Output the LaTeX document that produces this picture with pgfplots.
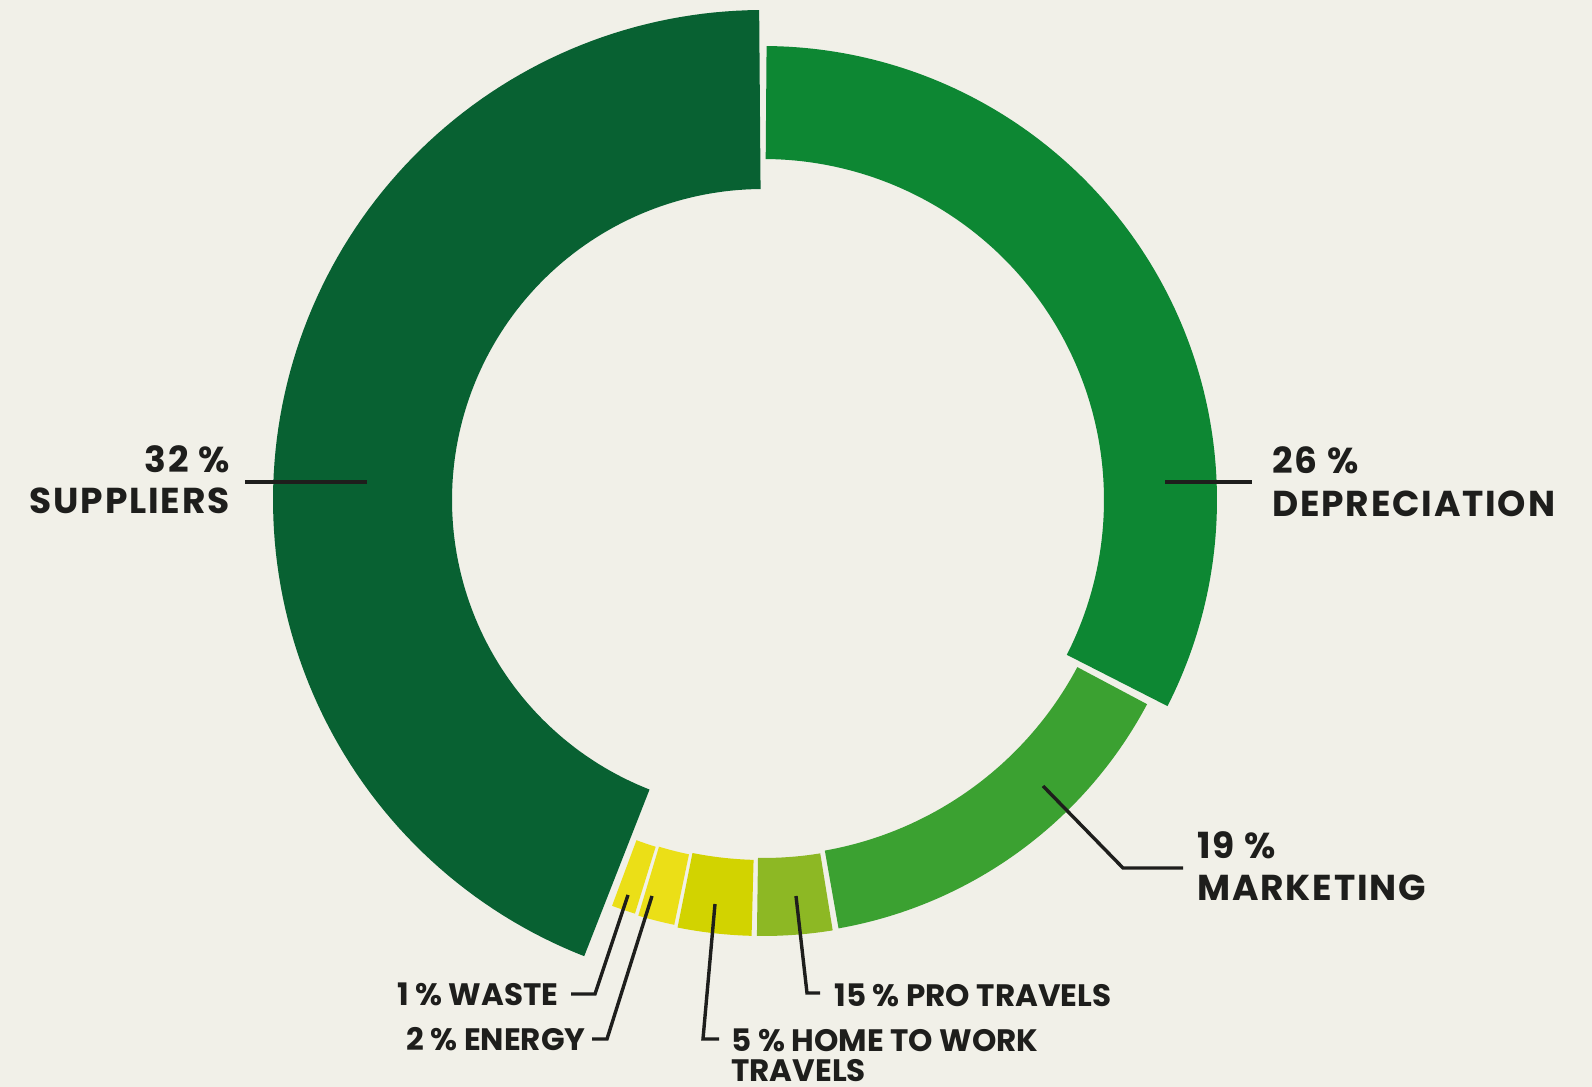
\documentclass[border=0pt]{standalone}
\usepackage{pgfplots}
\pgfplotsset{compat=1.18}
\usepgfplotslibrary{fillbetween}
\usepackage{fontspec}
\setmainfont{Poppins}

\definecolor{bgc}{RGB}{241,240,232}
\definecolor{txt}{RGB}{30,30,28}
\definecolor{cSup}{RGB}{8,97,50}
\definecolor{cDep}{RGB}{13,135,51}
\definecolor{cMar}{RGB}{59,161,49}
\definecolor{cPro}{RGB}{141,184,36}
\definecolor{cHom}{RGB}{210,211,0}
\definecolor{cEne}{RGB}{235,223,23}
\definecolor{cWas}{RGB}{235,223,23}

\tikzset{fill between/on layer=main}

% ring segment: id, colour, start angle, end angle, inner r, outer r (pixels, centre 763/587)
\newcommand{\ring}[6]{%
  \addplot[name path=o#1, draw=none, domain=#3:#4, samples=120, variable=\t]
    ({763+#6*cos(t)},{587+#6*sin(t)});
  \addplot[name path=i#1, draw=none, domain=#3:#4, samples=120, variable=\t]
    ({763+#5*cos(t)},{587+#5*sin(t)});
  \addplot[fill=#2, draw=none] fill between[of=o#1 and i#1];
}
\newcommand{\lbl}{\fontsize{18}{21}\selectfont\addfontfeatures{LetterSpace=5}\bfseries\color{txt}}
\newcommand{\sml}{\fontsize{15.5}{19}\selectfont\bfseries\color{txt}}

\begin{document}
\begin{tikzpicture}
\fill[bgc] (0,0) rectangle (796pt,543.5pt);
\begin{axis}[
  at={(0,0)}, anchor=south west,
  scale only axis, width=796pt, height=543.5pt,
  xmin=0, xmax=1592, ymin=0, ymax=1087,
  hide axis, clip=false,
  ]
  \ring{a}{cSup}{90.45}{248.6}{311}{490}
  \ring{b}{cWas}{249.6}{252.8}{363}{433}
  \ring{c}{cEne}{253.3}{258.2}{362}{434}
  \ring{d}{cHom}{258.7}{268.5}{360}{436}
  \ring{e}{cPro}{269.2}{279.2}{358}{436}
  \ring{f}{cMar}{280.0}{332.0}{356}{435}
  \ring{g}{cDep}{333.0}{449.55}{341}{454}

  % leader lines
  \draw[txt, line width=1.7pt] (axis cs:245,605) -- (axis cs:367,605);
  \draw[txt, line width=1.7pt] (axis cs:1165,605) -- (axis cs:1252,605);
  \draw[txt, line width=1.7pt] (axis cs:1043,301) -- (axis cs:1123,219) -- (axis cs:1183,219);
  \draw[txt, line width=1.7pt] (axis cs:628,192) -- (axis cs:595,93) -- (axis cs:571,93);
  \draw[txt, line width=1.7pt] (axis cs:652,191) -- (axis cs:607,48) -- (axis cs:592,48);
  \draw[txt, line width=1.7pt] (axis cs:715,183) -- (axis cs:703,48) -- (axis cs:719,48);
  \draw[txt, line width=1.7pt] (axis cs:796,191) -- (axis cs:807,94) -- (axis cs:820,94);

  % labels
  \node[anchor=base east, inner sep=0pt, font=\lbl] at (axis cs:230,614) {32 \%};
  \node[anchor=base east, inner sep=0pt, font=\lbl] at (axis cs:230,573) {SUPPLIERS};
  \node[anchor=base west, inner sep=0pt, font=\lbl] at (axis cs:1272,613) {26 \%};
  \node[anchor=base west, inner sep=0pt, font=\lbl] at (axis cs:1272,570) {DEPRECIATION};
  \node[anchor=base west, inner sep=0pt, font=\lbl] at (axis cs:1197,228) {19 \%};
  \node[anchor=base west, inner sep=0pt, font=\lbl] at (axis cs:1197,186) {MARKETING};
  \node[anchor=base east, inner sep=0pt, font=\sml] at (axis cs:559,81) {1 \% WASTE};
  \node[anchor=base east, inner sep=0pt, font=\sml] at (axis cs:586,36) {2 \% ENERGY};
  \node[anchor=base west, inner sep=0pt, font=\sml] at (axis cs:834,80) {15 \% PRO TRAVELS};
  \node[anchor=base west, inner sep=0pt, font=\sml] at (axis cs:731,35) {5 \% HOME TO WORK};
  \node[anchor=base west, inner sep=0pt, font=\sml] at (axis cs:731,5) {TRAVELS};
\end{axis}
\pgfresetboundingbox
\path[use as bounding box] (0,0) rectangle (796pt,543.5pt);
\end{tikzpicture}
\end{document}
